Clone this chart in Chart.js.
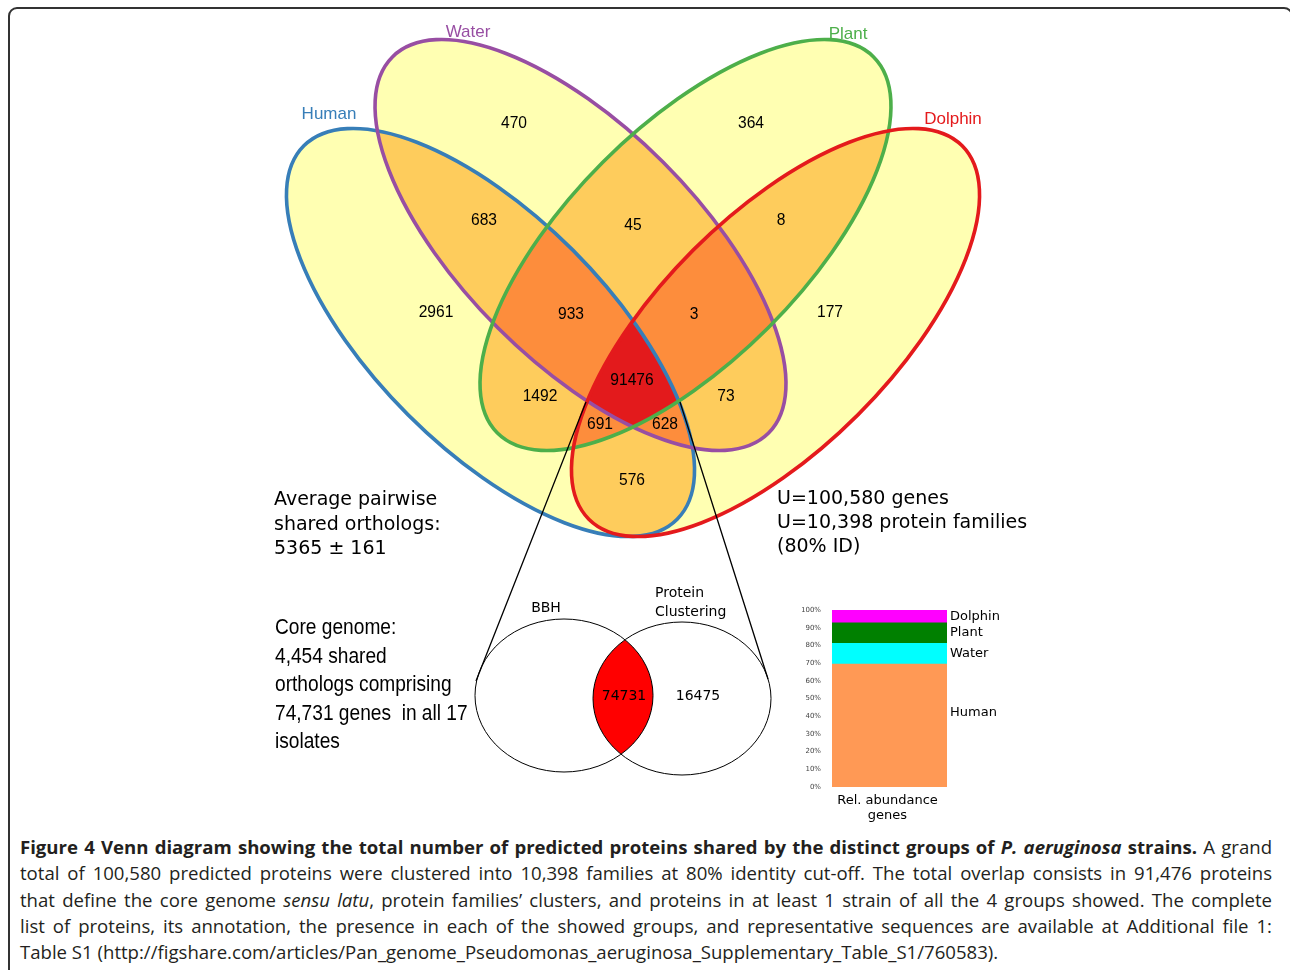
<!DOCTYPE html>
<html>
<head>
<meta charset="utf-8">
<script src="https://cdn.jsdelivr.net/npm/chart.js@4.4.1/dist/chart.umd.min.js"></script>
<style>
  html, body { margin: 0; padding: 0; background: #fff; }
  body { width: 1290px; height: 970px; position: relative; overflow: hidden; }
  #frame { position: absolute; left: 8px; top: 7px; width: 1285px; height: 1000px;
           border: 2px solid #333; border-radius: 9px; box-sizing: border-box; }
  #venn { position: absolute; left: 0; top: 0; }
  #bar { position: absolute; left: 800px; top: 600px; }
  #caption { position: absolute; left: 20px; top: 834px; width: 1252px;
             font-family: "Open Sans", sans-serif; font-size: 18px; line-height: 26.3px; color: #231f20; }
  .ln { white-space: nowrap; }
</style>
</head>
<body>
<div id="frame"></div>
<canvas id="venn" width="1290" height="830"></canvas>
<canvas id="bar" width="230" height="230"></canvas>
<div id="caption">
  <div class="ln"><span><b>Figure 4 Venn diagram showing the total number of predicted proteins shared by the distinct groups of <i>P. aeruginosa</i> strains.</b> A grand</span></div>
  <div class="ln"><span>total of 100,580 predicted proteins were clustered into 10,398 families at 80% identity cut-off. The total overlap consists in 91,476 proteins</span></div>
  <div class="ln"><span>that define the core genome <i>sensu latu</i>, protein families’ clusters, and proteins in at least 1 strain of all the 4 groups showed. The complete</span></div>
  <div class="ln"><span>list of proteins, its annotation, the presence in each of the showed groups, and representative sequences are available at Additional file 1:</span></div>
  <div class="ln"><span>Table S1 (http://figshare.com/articles/Pan_genome_Pseudomonas_aeruginosa_Supplementary_Table_S1/760583).</span></div>
</div>
<script>
// --- data ---
const setNames = ['Human', 'Water', 'Plant', 'Dolphin'];
// regions named by the groups they belong to (H, W, P, D)
const regionKeys = ['W', 'P', 'HW', 'WP', 'PD', 'H', 'HWP', 'WPD', 'D', 'HWPD', 'HP', 'WD', 'HPD', 'HWD', 'HD'];
const regionCounts = [470, 364, 683, 45, 8, 2961, 933, 3, 177, 91476, 1492, 73, 691, 628, 576];

const coreSets = ['BBH', 'Protein Clustering'];
const coreCounts = [74731, 16475];

const barSets = ['Human', 'Water', 'Plant', 'Dolphin'];
const barShares = [69.5, 11.7, 11.6, 7.2];
const barTickLabels = ['0%', '10%', '20%', '30%', '40%', '50%', '60%', '70%', '80%', '90%', '100%'];

const pairwiseNote = ['Average pairwise', 'shared orthologs:', '5365 \u00b1 161'];
const unionNote = ['U=100,580 genes', 'U=10,398 protein families', '(80% ID)'];
const coreNote = ['Core genome:', '4,454 shared', 'orthologs comprising', '74,731 genes  in all 17', 'isolates'];

// --- layout ---
const ellipses = [
  { cx: 490.5, cy: 332.5, a: 264, b: 116.5, rot: Math.PI / 4 },
  { cx: 580.5, cy: 245, a: 266, b: 117, rot: Math.PI / 4 },
  { cx: 685.5, cy: 245, a: 266, b: 117, rot: -Math.PI / 4 },
  { cx: 775.5, cy: 332.5, a: 264, b: 116.5, rot: -Math.PI / 4 }
];
const setColors = ['#377eb8', '#984ea3', '#4daf4a', '#e41a1c'];
const overlapFills = ['#ffffb2', '#fecc5c', '#fd8d3c', '#e31a1c'];
const setLabelAt = [[329, 119], [468, 37], [848, 39], [953, 124]];
const regionAt = {
  W: [514, 124], P: [751, 124], HW: [484, 221], WP: [633, 226], PD: [781, 221],
  H: [436, 313], HWP: [571, 315], WPD: [694, 315], D: [830, 313], HWPD: [632, 381],
  HP: [540, 397], WD: [726, 397], HPD: [600, 425], HWD: [665, 425], HD: [632, 481]
};
const coreEllipses = [
  { cx: 564, cy: 695.5, a: 89, b: 76.5 },
  { cx: 682, cy: 698.5, a: 89, b: 76.5 }
];

const vennPlugin = {
  id: 'venn',
  beforeDatasetsDraw(chart) {
    const { ctx, chartArea: area, scales: { x, y } } = chart;
    const px = v => x.getPixelForValue(v), py = v => y.getPixelForValue(v);

    // set names
    ctx.save();
    ctx.font = '17px "Liberation Sans", Arial, sans-serif';
    ctx.textAlign = 'center';
    ctx.textBaseline = 'alphabetic';
    setNames.forEach((n, i) => {
      ctx.fillStyle = setColors[i];
      ctx.fillText(n, px(setLabelAt[i][0]), py(setLabelAt[i][1]));
    });
    ctx.restore();

    const paths = ellipses.map(e => {
      const p = new Path2D();
      p.ellipse(px(e.cx), py(e.cy), px(e.cx + e.a) - px(e.cx), py(e.cy + e.b) - py(e.cy), e.rot, 0, Math.PI * 2);
      return p;
    });
    // fill each region by how many sets cover it
    for (let k = 1; k <= 4; k++) {
      for (let m = 1; m < 16; m++) {
        const idx = [0, 1, 2, 3].filter(i => m & (1 << i));
        if (idx.length !== k) continue;
        ctx.save();
        idx.forEach(i => ctx.clip(paths[i]));
        ctx.fillStyle = overlapFills[k - 1];
        ctx.fillRect(area.left, area.top, area.width, area.height);
        ctx.restore();
      }
    }
    ctx.save();
    ctx.lineWidth = 3.6;
    paths.forEach((p, i) => { ctx.strokeStyle = setColors[i]; ctx.stroke(p); });
    ctx.restore();
  },
  afterDatasetsDraw(chart) {
    const { ctx, scales: { x, y } } = chart;
    const px = v => x.getPixelForValue(v), py = v => y.getPixelForValue(v);
    const meta = chart.getDatasetMeta(0);

    // region counts
    ctx.save();
    ctx.font = '15.6px "Liberation Sans", Arial, sans-serif';
    ctx.fillStyle = '#000';
    ctx.textAlign = 'center';
    ctx.textBaseline = 'middle';
    meta.data.forEach((pt, i) => ctx.fillText(String(regionCounts[i]), pt.x, pt.y));
    ctx.restore();

    // zoom lines to the core diagram
    ctx.save();
    ctx.strokeStyle = '#000';
    ctx.lineWidth = 1.3;
    ctx.beginPath();
    ctx.moveTo(px(586), py(402)); ctx.lineTo(px(476), py(681));
    ctx.moveTo(px(680), py(402)); ctx.lineTo(px(768), py(679));
    ctx.stroke();

    // core two-set diagram
    const cp = coreEllipses.map(e => {
      const p = new Path2D();
      p.ellipse(px(e.cx), py(e.cy), px(e.cx + e.a) - px(e.cx), py(e.cy + e.b) - py(e.cy), 0, 0, Math.PI * 2);
      return p;
    });
    ctx.save();
    ctx.clip(cp[0]);
    ctx.fillStyle = '#ff0000';
    ctx.fill(cp[1]);
    ctx.restore();
    ctx.lineWidth = 1;
    cp.forEach(p => ctx.stroke(p));

    ctx.fillStyle = '#000';
    ctx.font = '14px "DejaVu Sans", sans-serif';
    ctx.textAlign = 'center';
    ctx.fillText(coreSets[0], px(546), py(612));
    ctx.textAlign = 'left';
    const pc = coreSets[1].split(' ');
    ctx.fillText(pc[0], px(655), py(597));
    ctx.fillText(pc[1], px(655), py(616));
    ctx.textAlign = 'center';
    ctx.fillText(String(coreCounts[0]), px(624), py(700));
    ctx.fillText(String(coreCounts[1]), px(698), py(700));

    // notes
    ctx.textAlign = 'left';
    ctx.font = '19px "DejaVu Sans", sans-serif';
    pairwiseNote.forEach((t, i) => ctx.fillText(t, px(274), py(505 + i * 24.5)));
    unionNote.forEach((t, i) => ctx.fillText(t, px(777), py(504 + i * 24)));
    // condensed sans for the core genome note
    ctx.font = '22px "Liberation Sans", Arial, sans-serif';
    const squeeze = 0.87;
    coreNote.forEach((t, i) => {
      ctx.save();
      ctx.translate(px(275), py(634 + i * 28.5));
      ctx.scale(squeeze, 1);
      ctx.fillText(t, 0, 0);
      ctx.restore();
    });
    ctx.restore();
  }
};

new Chart(document.getElementById('venn'), {
  type: 'scatter',
  data: {
    datasets: [{
      label: 'regions',
      data: regionKeys.map(k => ({ x: regionAt[k][0], y: regionAt[k][1] })),
      pointRadius: 0,
      pointHoverRadius: 0
    }]
  },
  options: {
    responsive: false,
    animation: false,
    events: [],
    layout: { padding: 0 },
    plugins: { legend: { display: false }, tooltip: { enabled: false } },
    scales: {
      x: { type: 'linear', min: 0, max: 1290, display: false },
      y: { type: 'linear', min: 0, max: 830, reverse: true, display: false }
    }
  },
  plugins: [vennPlugin]
});

// --- stacked abundance bar ---
const barColors = ['#ff9955', '#00ffff', '#008000', '#ff00ff'];
const barLabelNudge = { Human: -13 };

const barLabelPlugin = {
  id: 'barLabels',
  afterDatasetsDraw(chart) {
    const { ctx, chartArea: area, scales: { y } } = chart;
    ctx.save();
    ctx.fillStyle = '#000';
    ctx.font = '13px "DejaVu Sans", sans-serif';
    ctx.textAlign = 'left';
    ctx.textBaseline = 'middle';
    let base = 0;
    barShares.forEach((v, i) => {
      const mid = base + v / 2;
      base += v;
      ctx.fillText(barSets[i], area.right + 3, y.getPixelForValue(mid) + (barLabelNudge[barSets[i]] || 0));
    });
    ctx.textAlign = 'center';
    ctx.textBaseline = 'alphabetic';
    const cx = (area.left + area.right) / 2 - 2;
    ctx.fillText('Rel. abundance', cx, area.bottom + 17);
    ctx.fillText('genes', cx, area.bottom + 32);
    ctx.restore();
  }
};

new Chart(document.getElementById('bar'), {
  type: 'bar',
  data: {
    labels: ['Rel. abundance genes'],
    datasets: barSets.map((s, i) => ({
      label: s,
      data: [barShares[i]],
      backgroundColor: barColors[i],
      borderWidth: 0,
      barPercentage: 1,
      categoryPercentage: 1
    }))
  },
  options: {
    responsive: false,
    animation: false,
    events: [],
    layout: { padding: { left: 2, right: 83, top: 10, bottom: 43 } },
    plugins: { legend: { display: false }, tooltip: { enabled: false } },
    scales: {
      x: { stacked: true, display: false },
      y: {
        stacked: true, min: 0, max: 100,
        grid: { display: false },
        border: { display: false },
        ticks: {
          stepSize: 10,
          padding: 3,
          color: '#444',
          font: { size: 7, family: 'DejaVu Sans' },
          callback: (v, i) => barTickLabels[i]
        },
        afterFit(scale) { scale.width = 30; }
      }
    }
  },
  plugins: [barLabelPlugin]
});

// --- caption: fit the last line, justify the others ---
(function () {
  const cap = document.getElementById('caption');
  const spans = Array.from(cap.querySelectorAll('.ln > span'));
  const last = spans[spans.length - 1];
  const w0 = last.getBoundingClientRect().width;
  const fs = 18 * 979 / w0;
  cap.style.fontSize = fs + 'px';
  spans.slice(0, -1).forEach(sp => {
    sp.style.wordSpacing = '0px';
    const nat = sp.getBoundingClientRect().width;
    const gaps = (sp.textContent.match(/ /g) || []).length;
    sp.style.wordSpacing = ((1252 - nat) / gaps) + 'px';
  });
})();
</script>
</body>
</html>
